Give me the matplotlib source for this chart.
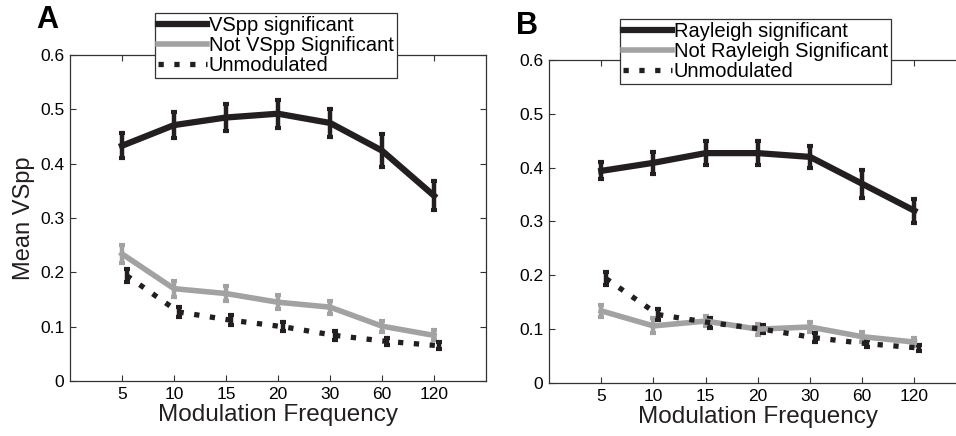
import numpy as np
import matplotlib.pyplot as plt
from matplotlib.lines import Line2D

plt.rcParams['font.family'] = ['Liberation Sans', 'DejaVu Sans']

# 调制频率（分类坐标）
freq_labels = ['5', '10', '15', '20', '30', '60', '120']

# A: VSpp
vspp_sig = [0.433, 0.471, 0.485, 0.492, 0.475, 0.424, 0.341]
vspp_sig_err = [0.023, 0.024, 0.025, 0.026, 0.026, 0.030, 0.027]
vspp_not = [0.234, 0.170, 0.161, 0.145, 0.136, 0.101, 0.084]
vspp_not_err = [0.017, 0.015, 0.013, 0.013, 0.012, 0.010, 0.009]

# B: Rayleigh
ray_sig = [0.394, 0.409, 0.427, 0.427, 0.420, 0.370, 0.320]
ray_sig_err = [0.016, 0.021, 0.022, 0.022, 0.020, 0.026, 0.022]
ray_not = [0.134, 0.106, 0.115, 0.100, 0.104, 0.086, 0.076]
ray_not_err = [0.011, 0.014, 0.010, 0.010, 0.010, 0.009, 0.008]

# 未调制
unmod = [0.194, 0.127, 0.112, 0.100, 0.084, 0.073, 0.065]
unmod_err = [0.012, 0.010, 0.009, 0.008, 0.008, 0.007, 0.006]

BLACK = '#231f20'
GRAY = '#a2a2a2'


def draw_panel(ax, sig, sig_err, nots, nots_err, names, letter):
    x = np.arange(1, len(freq_labels) + 1)
    ax.errorbar(x, sig, yerr=sig_err, color=BLACK, lw=4.5, elinewidth=3.2,
                capsize=2, capthick=3, zorder=3)
    ax.errorbar(x, nots, yerr=nots_err, color=GRAY, lw=4, elinewidth=3.2,
                capsize=2, capthick=3, zorder=2)
    ln = ax.errorbar(x + 0.09, unmod, yerr=unmod_err, color=BLACK, lw=3.8,
                     elinewidth=3.2, capsize=2, capthick=3, zorder=2)
    ln[0].set_dashes([1, 2])
    ln[0].set_dash_capstyle('butt')

    ax.set_xlim(0, 8)
    ax.set_ylim(0, 0.6)
    ax.set_xticks(x)
    ax.set_xticklabels(freq_labels)
    ax.set_yticks([0, 0.1, 0.2, 0.3, 0.4, 0.5, 0.6])
    ax.set_yticklabels(['0', '0.1', '0.2', '0.3', '0.4', '0.5', '0.6'])
    ax.tick_params(direction='in', length=4, top=True, right=True,
                   labelsize=12.5, pad=4, width=0.8, color='#333333')
    ax.set_xlabel('Modulation Frequency', fontsize=17.5, color='#231f20',
                  labelpad=2)
    for s in ax.spines.values():
        s.set_linewidth(0.9)
        s.set_color('#333333')

    h1 = Line2D([], [], color=BLACK, lw=4.5)
    h2 = Line2D([], [], color=GRAY, lw=4)
    h3 = Line2D([], [], color=BLACK, lw=3.8, dashes=[1, 2],
                dash_capstyle='butt')
    leg = ax.legend([h1, h2, h3], [names[0], names[1], 'Unmodulated'],
                    loc='upper center', bbox_to_anchor=(0.495, 1.128),
                    fontsize=14.5, frameon=True, fancybox=False,
                    edgecolor='#333333', framealpha=1, handlelength=2.4,
                    handletextpad=0.1, borderpad=0.15, labelspacing=0.05,
                    borderaxespad=0)
    leg.get_frame().set_linewidth(0.9)
    ax.text(-0.08, 1.06, letter, transform=ax.transAxes, fontsize=22,
            fontweight='bold', va='bottom', ha='left')


fig = plt.figure(figsize=(9.56, 4.36), dpi=100)
ax1 = fig.add_axes([0.0732, 0.1261, 0.4352, 0.7477])
ax2 = fig.add_axes([0.5743, 0.1216, 0.4368, 0.7408])

draw_panel(ax1, vspp_sig, vspp_sig_err, vspp_not, vspp_not_err,
           ['VSpp significant', 'Not VSpp Significant'], 'A')
draw_panel(ax2, ray_sig, ray_sig_err, ray_not, ray_not_err,
           ['Rayleigh significant', 'Not Rayleigh Significant'], 'B')
ax1.set_ylabel('Mean VSpp', fontsize=17, color='#231f20')

fig.savefig('out.png', dpi=100)
